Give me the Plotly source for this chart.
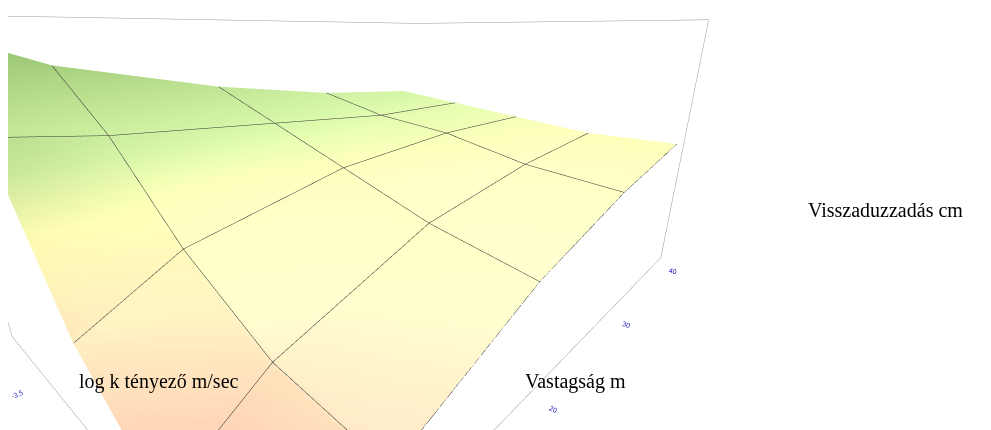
import plotly.graph_objects as go

# thickness (m) along x, log k (m/sec) along y
vastagsag = [5, 10, 20, 30, 40]
log_k = [-5.0, -4.5, -4.0, -3.5, -3.0]
# rows follow log_k, columns follow vastagsag
visszaduzzadas = [
    [10.5, 12.5, 15.0, 16.5, 17.5],
    [11.0, 13.5, 16.0, 17.0, 17.5],
    [14.0, 16.0, 17.5, 18.0, 18.0],
    [20.0, 19.5, 19.0, 18.5, 18.5],
    [23.5, 22.0, 20.5, 19.5, 19.0],
]

colorscale = [
    [0.0, "#f4b8a8"],
    [0.3, "#fbe8b8"],
    [0.5, "#f2f0a8"],
    [0.65, "#b8d88a"],
    [1.0, "#6f9e4a"],
]

fig = go.Figure()
fig.add_trace(go.Surface(
    x=vastagsag, y=log_k, z=visszaduzzadas,
    colorscale=colorscale, showscale=False,
    lighting=dict(ambient=0.75, diffuse=0.5, specular=0.1),
    contours=dict(x=dict(show=True, color="#333", width=1),
                  y=dict(show=True, color="#333", width=1)),
))

axis_common = dict(showbackground=False, showgrid=False, zeroline=False,
                   showline=True, linecolor="#999", mirror=True,
                   tickfont=dict(size=9, color="#0000aa"), title=dict(text=""))
fig.update_layout(
    width=991, height=430,
    margin=dict(l=0, r=0, t=0, b=0),
    paper_bgcolor="white",
    scene=dict(
        domain=dict(x=[0.0, 0.76], y=[0.0, 1.0]),
        xaxis=dict(axis_common, range=[5, 42], tickvals=[10, 20, 30, 40]),
        yaxis=dict(axis_common, range=[-5, -3], tickvals=[-5.0, -4.5, -4.0, -3.5, -3.0],
                   ticktext=["-5.0", "-4.5", "-4.0", "-3.5", "-3.0"]),
        zaxis=dict(axis_common, range=[10, 24], tickvals=[15, 20]),
        aspectmode="manual",
        aspectratio=dict(x=1.5, y=1.0, z=0.7),
        camera=dict(eye=dict(x=-0.95, y=-0.85, z=0.32), center=dict(x=0, y=0, z=-0.15)),
    ),
    annotations=[
        dict(text="Visszaduzzadás cm", x=0.805, y=0.53, xref="paper", yref="paper",
             showarrow=False, xanchor="left", font=dict(family="Liberation Serif", size=20, color="black")),
        dict(text="Vastagság m", x=0.52, y=0.1, xref="paper", yref="paper",
             showarrow=False, xanchor="left", font=dict(family="Liberation Serif", size=20, color="black")),
        dict(text="log k tényező m/sec", x=0.07, y=0.1, xref="paper", yref="paper",
             showarrow=False, xanchor="left", font=dict(family="Liberation Serif", size=20, color="black")),
    ],
)

fig.write_html("out.html")
